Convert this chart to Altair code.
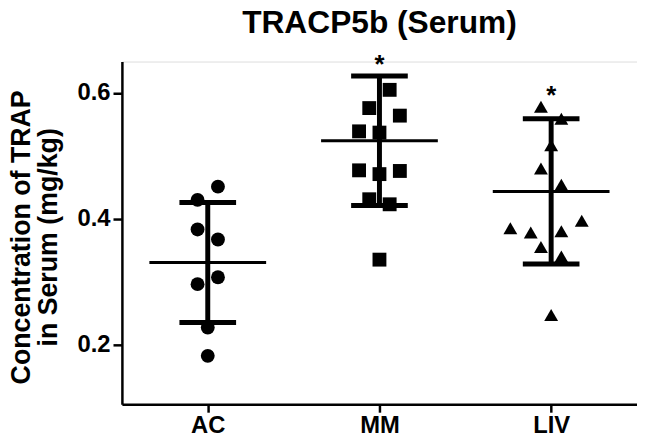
import altair as alt
import pandas as pd

# ---- data ----
groups = ["AC", "MM", "LIV"]
shapes = ["circle", "square", "triangle-up"]

ac_values = [0.451, 0.430, 0.383, 0.367, 0.307, 0.296, 0.227, 0.182]
ac_slots = [1, -1, -1, 1, 1, -1, 0, 0]

mm_values = [0.605, 0.576, 0.564, 0.539, 0.537, 0.477, 0.471, 0.476, 0.431, 0.423, 0.335]
mm_slots = [1, -1, 2, -2, 0, -2, 0, 2, -1, 1, 0]

liv_values = [0.578, 0.559, 0.517, 0.480, 0.454, 0.397, 0.385, 0.378, 0.380, 0.355, 0.340, 0.247]
liv_slots = [-1, 1, 0, -1, 1, 3, -4, -2, 1, -1, 1, 0]

means = [0.3305, 0.524, 0.4435]
sds = [0.0955, 0.103, 0.1155]

star_groups = ["MM", "LIV"]
star_levels = [0.632, 0.582]

title_text = "TRACP5b (Serum)"
y_title = ["Concentration of TRAP", "in Serum (mg/kg)"]

# ---- tables ----
rows = []
for gi, (vals, slots) in enumerate([(ac_values, ac_slots), (mm_values, mm_slots), (liv_values, liv_slots)]):
    for v, s in zip(vals, slots):
        rows.append({"group": groups[gi], "idx": gi, "value": v, "slot": s})
points_df = pd.DataFrame(rows)

stats_df = pd.DataFrame({"group": groups, "idx": list(range(3)), "mean": means, "sd": sds})
stars_df = pd.DataFrame({"idx": [groups.index(g) for g in star_groups], "level": star_levels, "label": ["*"] * len(star_groups)})
title_df = pd.DataFrame({"label": [title_text]})

FONT = "Liberation Sans"
SPREAD = 0.0594
W, H = 520, 346

xscale = alt.Scale(domain=[-0.5, 2.5], nice=False, zero=False)
yscale = alt.Scale(domain=[0.105, 0.65], nice=False, zero=False)

xaxis = alt.Axis(
    values=[0, 1, 2],
    labelExpr="['AC','MM','LIV'][datum.value]",
    title=None, grid=False,
    labelFont=FONT, labelFontSize=24, labelFontWeight="bold", labelColor="black",
    tickSize=8, tickWidth=2.5, tickColor="black",
    domainColor="black", domainWidth=2.5, labelPadding=2,
)
yaxis = alt.Axis(
    values=[0.2, 0.4, 0.6], format=".1f",
    title=y_title,
    titleFont=FONT, titleFontSize=27, titleFontWeight="bold", titleColor="black",
    titleAngle=270, titleAlign="center", titleBaseline="alphabetic",
    titleX=-93, titleY=177, titleLineHeight=27,
    grid=False,
    labelFont=FONT, labelFontSize=24, labelFontWeight="bold", labelColor="black",
    tickSize=9, tickWidth=2.5, tickColor="black",
    domainColor="black", domainWidth=2.5, labelPadding=3,
)

X = alt.X("xpos:Q", scale=xscale, axis=xaxis)
Y = alt.Y("ypos:Q", scale=yscale, axis=yaxis)

points = alt.Chart(points_df).transform_calculate(
    xpos=f"datum.idx + datum.slot * {SPREAD}", ypos="datum.value"
).mark_point(filled=True, size=196, opacity=1, color="black", strokeWidth=0).encode(
    x=X, y=Y,
    shape=alt.Shape("group:N", scale=alt.Scale(domain=groups, range=shapes), legend=None),
)

base_stats = alt.Chart(stats_df)

mean_line = base_stats.transform_calculate(
    xpos="datum.idx - 0.34", xpos2="datum.idx + 0.34", ypos="datum.mean"
).mark_rule(color="black", strokeWidth=3).encode(x=X, x2="xpos2:Q", y=Y)

err_bar = base_stats.transform_calculate(
    xpos="datum.idx", ypos="datum.mean - datum.sd", ypos2="datum.mean + datum.sd"
).mark_rule(color="black", strokeWidth=5).encode(x=X, y=Y, y2="ypos2:Q")

cap_hi = base_stats.transform_calculate(
    xpos="datum.idx - 0.165", xpos2="datum.idx + 0.165", ypos="datum.mean + datum.sd"
).mark_rule(color="black", strokeWidth=5).encode(x=X, x2="xpos2:Q", y=Y)

cap_lo = base_stats.transform_calculate(
    xpos="datum.idx - 0.165", xpos2="datum.idx + 0.165", ypos="datum.mean - datum.sd"
).mark_rule(color="black", strokeWidth=5).encode(x=X, x2="xpos2:Q", y=Y)

stars = alt.Chart(stars_df).transform_calculate(
    xpos="datum.idx", ypos="datum.level"
).mark_text(font=FONT, fontSize=26, fontWeight="bold", color="black",
            baseline="alphabetic", align="center", clip=False).encode(
    x=X, y=Y, text="label:N"
)

title = alt.Chart(title_df).mark_text(
    font=FONT, fontSize=32, fontWeight="bold", color="black",
    baseline="alphabetic", align="center", clip=False
).encode(x=alt.value(W / 2), y=alt.value(-29), text="label:N")

chart = alt.layer(err_bar, cap_hi, cap_lo, mean_line, points, stars, title).properties(
    width=W, height=H,
    autosize=alt.AutoSizeParams(type="none"),
    padding={"left": 115, "top": 52, "right": 0, "bottom": 33},
).configure_view(stroke=None).configure(background="white")

chart.save("out.html", embed_options={"renderer": "svg", "actions": False})
